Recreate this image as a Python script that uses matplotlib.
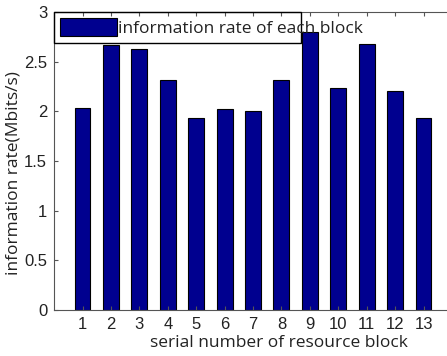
import numpy as np
import matplotlib
matplotlib.use('Agg')
import matplotlib.pyplot as plt
from matplotlib.patches import Rectangle

blocks = np.arange(1, 14)
rates = [2.03, 2.67, 2.63, 2.32, 1.93, 2.02, 2.00, 2.32, 2.80, 2.24, 2.68, 2.21, 1.93]

plt.rcParams['font.family'] = ['Liberation Sans', 'DejaVu Sans']
label_font = ['Open Sans', 'DejaVu Sans']

fig = plt.figure(figsize=(4.47, 3.56), dpi=100)
ax = fig.add_axes([0.121, 0.129, 0.89, 0.837])

ax.bar(blocks, rates, width=0.56, color='#00008f', edgecolor='black',
       linewidth=0.8, label='information rate of each block')

ax.set_xlim(0, 14)
ax.set_ylim(0, 3)
ax.set_xticks(blocks)
ax.set_yticks([0, 0.5, 1, 1.5, 2, 2.5, 3])
ax.set_yticklabels(['0', '0.5', '1', '1.5', '2', '2.5', '3'])
ax.tick_params(direction='in', top=True, right=True, length=3,
               labelsize=12, color='#555555', labelcolor='#222222', pad=5)
for s in ax.spines.values():
    s.set_color('#555555')
    s.set_linewidth(0.8)

ax.set_xlabel('serial number of resource block', fontsize=12.5,
              family=label_font, color='#222222')
ax.set_ylabel('information rate(Mbits/s)', fontsize=12.5,
              family=label_font, color='#222222')
ax.xaxis.set_label_coords(0.565, -0.085)
ax.yaxis.set_label_coords(-0.082, 0.46)

# legend without its own frame; frame drawn narrower than the text
leg = ax.legend(loc='upper left', frameon=False, handlelength=3.3,
                handleheight=1.2, handletextpad=0.05, borderaxespad=0.0,
                borderpad=0.35, prop={'family': label_font, 'size': 12.5})
for t in leg.get_texts():
    t.set_color('#222222')
ax.add_patch(Rectangle((0, 2.69), 8.7, 0.31, fill=False, edgecolor='black',
                       linewidth=1.0, clip_on=False, zorder=5))

fig.savefig('out.png', dpi=100)
